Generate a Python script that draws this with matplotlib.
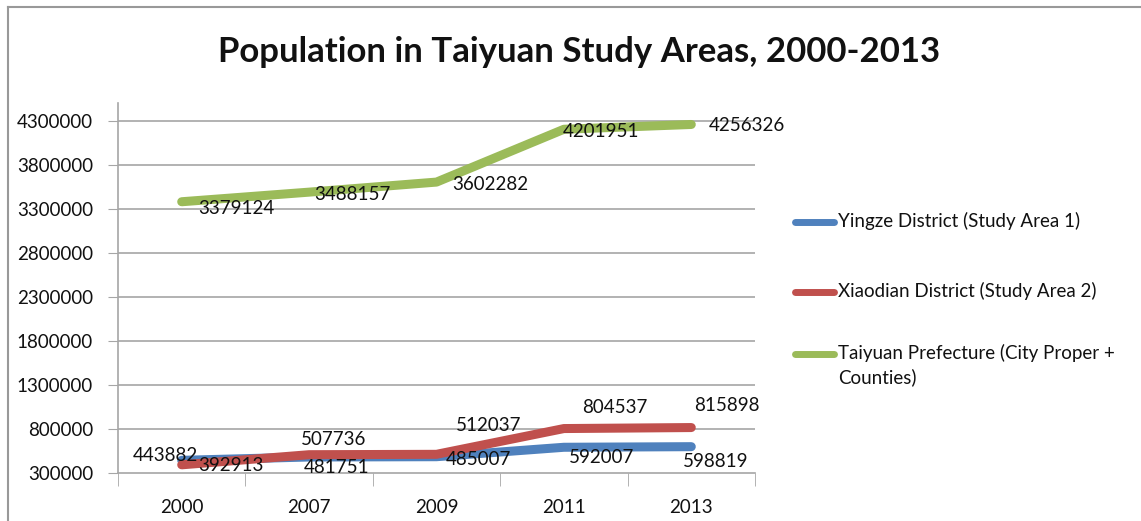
import numpy as np
import matplotlib
matplotlib.use('Agg')
import matplotlib.pyplot as plt
from matplotlib.lines import Line2D

plt.rcParams['font.family'] = ['Lato', 'DejaVu Sans']

years = ['2000', '2007', '2009', '2011', '2013']
yingze = [443882, 481751, 485007, 592007, 598819]
xiaodian = [392913, 507736, 512037, 804537, 815898]
taiyuan = [3379124, 3488157, 3602282, 4201951, 4256326]
series_names = ['Yingze District (Study Area 1)',
                'Xiaodian District (Study Area 2)',
                'Taiyuan Prefecture (City Proper +\nCounties)']
y_ticks = [300000, 800000, 1300000, 1800000, 2300000,
           2800000, 3300000, 3800000, 4300000]

colors = ['#4F81BD', '#C0504D', '#9BBB59']
# label offsets in pixels (dx, dy) from each point
label_offsets = [
    [(-16, 5), (27, -11), (42, -3), (38, -10), (24, -15)],
    [(49, -1), (24, 15), (52, 29), (51, 21), (36, 22)],
    [(55, -7), (43, -2), (54, -2), (37, -2), (56, -1)],
]

W, H = 1141, 521
fig = plt.figure(figsize=(W / 100, H / 100), dpi=100)
ax = fig.add_axes([118 / W, 1 - 473 / H, (755 - 118) / W, (473 - 103) / H])

x = np.arange(len(years))
all_series = [yingze, xiaodian, taiyuan]

for vals, c in zip(all_series, colors):
    ax.plot(x, vals, color=c, lw=6.5, solid_capstyle='round', zorder=3)

for vals, offs in zip(all_series, label_offsets):
    for xi, v, (dx, dy) in zip(x, vals, offs):
        ax.annotate(str(v), (xi, v), xytext=(dx, dy), textcoords='offset pixels',
                    ha='center', va='center', fontsize=13.5, color='#111111', zorder=4)

ax.set_xlim(-0.5, len(years) - 0.5)
ax.set_ylim(300000, 4500000)
ax.set_yticks(y_ticks)
ax.set_yticklabels([str(t) for t in y_ticks], fontsize=13.5, color='#111111')
ax.set_xticks(x)
ax.set_xticklabels(years, fontsize=13.5, color='#111111')
ax.set_xticks(np.arange(-0.5, len(years), 1.0), minor=True)
ax.tick_params(axis='x', which='major', length=0, pad=19)
ax.tick_params(axis='x', which='minor', length=9, color='#a6a6a6', direction='out')
ax.tick_params(axis='y', length=7, color='#a6a6a6', direction='out', pad=11)

for t in y_ticks[1:]:
    ax.axhline(t, color='#a6a6a6', lw=1.2, zorder=1)

for s in ['top', 'right']:
    ax.spines[s].set_visible(False)
for s in ['left', 'bottom']:
    ax.spines[s].set_color('#a6a6a6')
    ax.spines[s].set_linewidth(1.2)

fig.text(579 / W, 1 - 52 / H, 'Population in Taiyuan Study Areas, 2000-2013',
         ha='center', va='center', fontsize=25, fontweight='bold', color='#111111')

# legend drawn by hand so the handle sits on the first text line
legend_y = [222, 292, 354]
for name, c, ly in zip(series_names, colors, legend_y):
    fig.add_artist(Line2D([795 / W, 834 / W], [1 - ly / H, 1 - ly / H],
                          color=c, lw=5, solid_capstyle='round'))
    fig.text(838 / W, 1 - (ly - 10) / H, name, ha='left', va='top',
             fontsize=13.5, color='#111111', linespacing=1.4)

# outer frame
fig.add_artist(Line2D([8 / W, 1], [1 - 7 / H, 1 - 7 / H], color='#999999', lw=1.5))
fig.add_artist(Line2D([8 / W, 8 / W], [0, 1 - 7 / H], color='#999999', lw=1.5))

fig.savefig('out.png', dpi=100)
